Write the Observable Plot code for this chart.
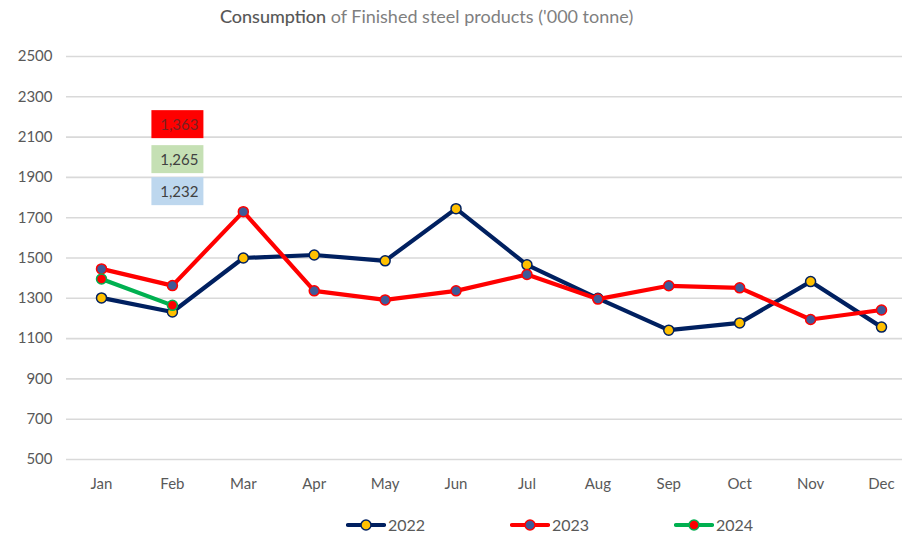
<!DOCTYPE html>
<html>
<head>
<meta charset="utf-8">
<script src="https://cdn.jsdelivr.net/npm/d3@7"></script>
<script src="https://cdn.jsdelivr.net/npm/@observablehq/plot@0.6"></script>
<style>
  html, body { margin: 0; padding: 0; background: #fff; }
  body { width: 902px; height: 540px; position: relative; overflow: hidden; font-family: Lato, "Open Sans", sans-serif; }
  #title { height: 36px; position: relative; }
  #title span.t { position: absolute; left: 220px; top: 5px; font-size: 18px; color: #7f7f7f; white-space: nowrap; }
  #title span.b { color: #555555; -webkit-text-stroke: 0.15px #555555; }
  #legend { position: absolute; top: 515px; left: 0; width: 902px; height: 25px; }
  .li { position: absolute; top: 0; display: flex; align-items: center; font-size: 16px; color: #595959; }
  .li svg { margin-right: 2px; }
</style>
</head>
<body>
<div id="title"><span class="t"><span class="b">Consumption</span> of Finished steel products ('000 tonne)</span></div>
<div id="chart"></div>
<div id="legend"></div>
<script>
const months = ["Jan","Feb","Mar","Apr","May","Jun","Jul","Aug","Sep","Oct","Nov","Dec"];
const years = ["2022","2023","2024"];
const v2022 = [1302,1232,1500,1515,1486,1745,1466,1300,1142,1178,1383,1157];
const v2023 = [1446,1363,1730,1337,1292,1337,1418,1296,1362,1352,1195,1242];
const v2024 = [1396,1265];
const yTicks = [500,700,900,1100,1300,1500,1700,1900,2100,2300,2500];
const labelValues = [1363,1265,1232];
const labelMonth = "Feb";

const styles = {
  "2022": {line: "#002060", fill: "#ffc000", stroke: "#002060"},
  "2023": {line: "#ff0000", fill: "#3f5a98", stroke: "#ff0000"},
  "2024": {line: "#00b050", fill: "#ff0000", stroke: "#00b050"}
};
const labelStyles = [
  {bg: "#ff0000", color: "#7a2020"},
  {bg: "#c5e0b4", color: "#404040"},
  {bg: "#bdd7ee", color: "#404040"}
];

const seriesValues = {"2022": v2022, "2023": v2023, "2024": v2024};
const series = years.map(y => ({year: y, rows: seriesValues[y].map((v, i) => ({month: months[i], value: v, year: y}))}));
const labelRows = labelValues.map(v => ({month: labelMonth, text: d3.format(",")(v)}));
const labelDy = [63, 98, 130];

const marks = [
  Plot.ruleY(yTicks, {stroke: "#d9d9d9", strokeWidth: 1.6}),
  Plot.axisY(yTicks, {tickSize: 0, tickPadding: 14, label: null, fontSize: 15, fill: "#595959", tickFormat: d => String(d)}),
  Plot.axisX(months, {tickSize: 0, tickPadding: 19, label: null, fontSize: 15, fill: "#595959"})
];
series.forEach(s => {
  const st = styles[s.year];
  marks.push(Plot.line(s.rows, {x: "month", y: "value", stroke: st.line, strokeWidth: 4.2, strokeLinejoin: "round"}));
  marks.push(Plot.dot(s.rows, {x: "month", y: "value", r: 5, fill: st.fill, stroke: st.stroke, strokeWidth: 1.5}));
});
labelRows.forEach((d, i) => {
  marks.push(Plot.text([d], {x: "month", text: "text", frameAnchor: "top", dy: labelDy[i], dx: 26, textAnchor: "end",
    fontSize: 15, fill: labelStyles[i].color, ariaDescription: "datalabel" + i}));
});

const chart = Plot.plot({
  width: 902, height: 469,
  marginLeft: 66, marginRight: 0, marginTop: 20, marginBottom: 46,
  style: {fontFamily: "Lato, 'Open Sans', sans-serif", fontSize: "15px", color: "#595959", background: "transparent"},
  x: {type: "point", domain: months, range: [101, 881], padding: 0, round: false},
  y: {domain: [500, 2500]},
  marks
});
document.getElementById("chart").appendChild(chart);

// background boxes behind data labels
const textGroups = Array.from(chart.querySelectorAll('g[aria-label="text"]'));
textGroups.forEach((g, i) => {
  const ls = labelStyles[i];
  if (!ls) return;
  g.querySelectorAll("text").forEach(t => {
    const b = t.getBBox();
    const w = 52, h = 28;
    const rect = document.createElementNS("http://www.w3.org/2000/svg", "rect");
    rect.setAttribute("x", b.x + b.width + 5 - w);
    rect.setAttribute("y", b.y + b.height / 2 - h / 2);
    rect.setAttribute("width", w);
    rect.setAttribute("height", h);
    rect.setAttribute("fill", ls.bg);
    const tr = t.getAttribute("transform");
    if (tr) rect.setAttribute("transform", tr);
    g.insertBefore(rect, t);
  });
});

// legend
const legend = document.getElementById("legend");
const legendLeft = [346, 510, 674];
years.forEach((y, i) => {
  const st = styles[y];
  const item = document.createElement("div");
  item.className = "li";
  item.style.left = legendLeft[i] + "px";
  item.innerHTML = `<svg width="40" height="14"><line x1="2" y1="7" x2="38" y2="7" stroke="${st.line}" stroke-width="4.2" stroke-linecap="round"/><circle cx="20" cy="7" r="5" fill="${st.fill}" stroke="${st.stroke}" stroke-width="1.5"/></svg><span>${y}</span>`;
  legend.appendChild(item);
});
</script>
</body>
</html>
